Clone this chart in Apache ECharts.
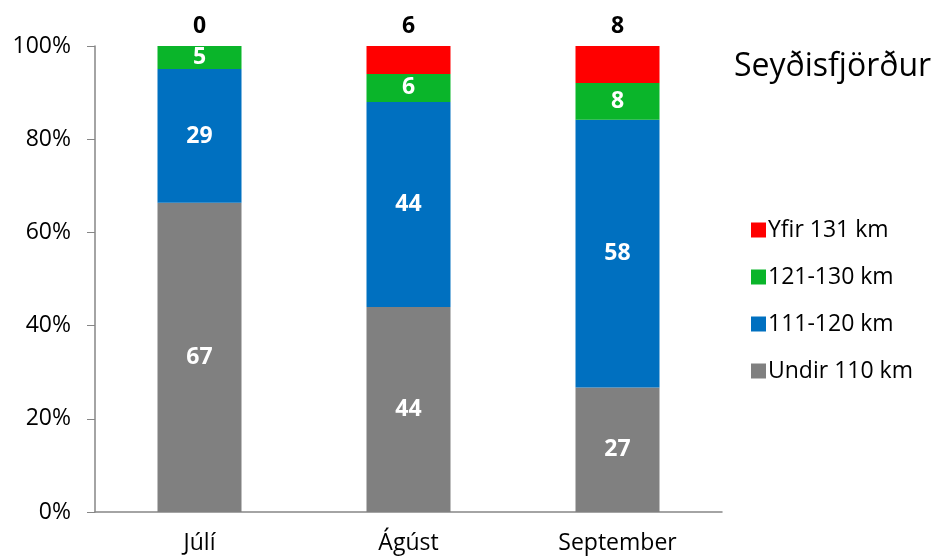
<!DOCTYPE html>
<html>
<head>
<meta charset="utf-8">
<script src="https://cdn.jsdelivr.net/npm/echarts@6/dist/echarts.min.js"></script>
<style>
  html, body { margin: 0; padding: 0; background: #fff; }
  #main { width: 936px; height: 556px; }
</style>
</head>
<body>
<div id="main"></div>
<script>
  // gögn
  const months = ['Júlí', 'Ágúst', 'September'];
  const undir110 = [67, 44, 27];
  const km111_120 = [29, 44, 58];
  const km121_130 = [5, 6, 8];
  const yfir131 = [0, 6, 8];

  const totals = months.map((m, i) => undir110[i] + km111_120[i] + km121_130[i] + yfir131[i]);
  const pct = arr => arr.map((v, i) => v / totals[i] * 100);

  const font = '"Open Sans", "Noto Sans", sans-serif';
  const chart = echarts.init(document.getElementById('main'));

  const inLabel = raw => ({
    show: true,
    position: 'inside',
    color: '#fff',
    fontWeight: 'bold',
    fontSize: 23,
    fontFamily: font,
    formatter: p => raw[p.dataIndex]
  });

  const option = {
    animation: false,
    title: {
      text: 'Seyðisfjörður',
      left: 729,
      top: 46,
      textStyle: { fontFamily: font, fontWeight: 'normal', fontSize: 32, color: '#000' }
    },
    legend: {
      orient: 'vertical',
      left: 746,
      top: 213,
      itemWidth: 15,
      itemHeight: 15,
      itemGap: 23,
      icon: 'rect',
      data: ['Yfir 131 km', '121-130 km', '111-120 km', 'Undir 110 km'],
      textStyle: { fontFamily: font, fontSize: 23, lineHeight: 24, color: '#000', padding: [0, 0, 0, -3] }
    },
    grid: { left: 95, right: 214, top: 46, bottom: 44 },
    xAxis: {
      type: 'category',
      data: months,
      axisLine: { lineStyle: { color: '#868686', width: 1.5 } },
      axisTick: { length: 8, lineStyle: { color: '#868686' } },
      axisLabel: { fontFamily: font, fontSize: 23, color: '#000', margin: 20 }
    },
    yAxis: {
      type: 'value',
      min: 0,
      max: 100,
      interval: 20,
      axisLine: { show: true, lineStyle: { color: '#868686', width: 1.5 } },
      axisTick: { show: true, length: 8, lineStyle: { color: '#868686' } },
      splitLine: { show: false },
      axisLabel: { fontFamily: font, fontSize: 23, color: '#000', margin: 24, formatter: '{value}%' }
    },
    series: [
      {
        name: 'Undir 110 km', type: 'bar', stack: 'a', barWidth: 84,
        itemStyle: { color: '#808080' },
        label: inLabel(undir110),
        data: pct(undir110)
      },
      {
        name: '111-120 km', type: 'bar', stack: 'a',
        itemStyle: { color: '#0070C0' },
        label: inLabel(km111_120),
        data: pct(km111_120)
      },
      {
        name: '121-130 km', type: 'bar', stack: 'a',
        itemStyle: { color: '#0AB52A' },
        label: inLabel(km121_130),
        data: pct(km121_130)
      },
      {
        name: 'Yfir 131 km', type: 'bar', stack: 'a',
        itemStyle: { color: '#FF0000' },
        label: {
          show: true,
          position: 'top',
          distance: 8,
          color: '#000',
          fontWeight: 'bold',
          fontSize: 23,
          fontFamily: font,
          formatter: p => yfir131[p.dataIndex]
        },
        data: pct(yfir131)
      }
    ]
  };

  chart.setOption(option);
</script>
</body>
</html>
